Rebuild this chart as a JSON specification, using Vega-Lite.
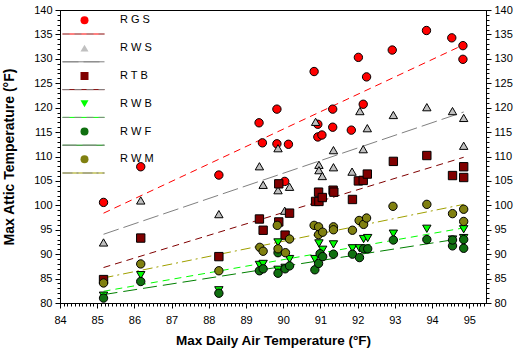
{
  "$schema": "https://vega.github.io/schema/vega-lite/v6.json",
  "width": 426,
  "height": 293,
  "autosize": "none",
  "padding": {"left": 60, "top": 10, "right": 32, "bottom": 45},
  "background": "white",
  "config": {
    "view": {"stroke": "black", "strokeWidth": 1},
    "axis": {
      "labelFont": "Liberation Sans", "labelFontSize": 11, "labelColor": "black",
      "domainColor": "black", "tickColor": "black", "grid": false,
      "titleFont": "Liberation Sans", "titleFontSize": 13.5, "titleFontWeight": "bold", "titleColor": "black"
    },
    "legend": {
      "labelFont": "Liberation Sans", "labelFontSize": 11, "labelColor": "black"
    }
  },
  "data": {"values": [
    {"s":"RGS","x":85.17,"y":100.6},{"s":"RGS","x":86.17,"y":107.9},{"s":"RGS","x":88.27,"y":106.2},{"s":"RGS","x":89.35,"y":116.9},
    {"s":"RGS","x":89.44,"y":112.8},{"s":"RGS","x":89.83,"y":119.7},{"s":"RGS","x":89.83,"y":112.6},{"s":"RGS","x":90.14,"y":112.5},
    {"s":"RGS","x":90.04,"y":104.9},{"s":"RGS","x":90.83,"y":127.4},{"s":"RGS","x":90.93,"y":116.6},{"s":"RGS","x":90.93,"y":114.0},
    {"s":"RGS","x":91.04,"y":114.4},{"s":"RGS","x":91.33,"y":119.7},{"s":"RGS","x":91.33,"y":116.0},{"s":"RGS","x":91.83,"y":115.4},
    {"s":"RGS","x":92.02,"y":130.3},{"s":"RGS","x":92.15,"y":120.7},{"s":"RGS","x":92.24,"y":126.3},{"s":"RGS","x":92.93,"y":131.8},
    {"s":"RGS","x":93.85,"y":135.8},{"s":"RGS","x":94.53,"y":134.3},{"s":"RGS","x":94.83,"y":132.7},{"s":"RGS","x":94.83,"y":129.9},

    {"s":"RWS","x":85.17,"y":92.4},{"s":"RWS","x":86.17,"y":101.0},{"s":"RWS","x":88.27,"y":98.2},{"s":"RWS","x":89.36,"y":108.0},
    {"s":"RWS","x":89.46,"y":104.2},{"s":"RWS","x":89.86,"y":111.7},{"s":"RWS","x":89.86,"y":103.1},{"s":"RWS","x":90.04,"y":98.9},
    {"s":"RWS","x":90.17,"y":103.8},{"s":"RWS","x":90.87,"y":117.1},{"s":"RWS","x":90.96,"y":108.3},{"s":"RWS","x":90.96,"y":107.2},
    {"s":"RWS","x":91.05,"y":106.0},{"s":"RWS","x":91.35,"y":111.3},{"s":"RWS","x":91.35,"y":107.8},{"s":"RWS","x":91.85,"y":106.9},
    {"s":"RWS","x":92.06,"y":119.3},{"s":"RWS","x":92.15,"y":111.5},{"s":"RWS","x":92.26,"y":115.8},{"s":"RWS","x":92.96,"y":118.5},
    {"s":"RWS","x":93.86,"y":120.1},{"s":"RWS","x":94.55,"y":119.3},{"s":"RWS","x":94.85,"y":117.9},{"s":"RWS","x":94.85,"y":112.2},

    {"s":"RTB","x":85.17,"y":84.8},{"s":"RTB","x":86.17,"y":93.3},{"s":"RTB","x":88.27,"y":89.5},{"s":"RTB","x":89.36,"y":97.2},
    {"s":"RTB","x":89.46,"y":94.9},{"s":"RTB","x":89.88,"y":104.4},{"s":"RTB","x":89.88,"y":96.6},{"s":"RTB","x":90.05,"y":93.9},
    {"s":"RTB","x":90.17,"y":98.4},{"s":"RTB","x":90.87,"y":100.8},{"s":"RTB","x":90.96,"y":100.8},{"s":"RTB","x":90.95,"y":102.7},
    {"s":"RTB","x":91.05,"y":101.6},{"s":"RTB","x":91.34,"y":103.1},{"s":"RTB","x":91.36,"y":102.7},{"s":"RTB","x":91.86,"y":101.2},
    {"s":"RTB","x":92.02,"y":105.0},{"s":"RTB","x":92.15,"y":105.1},{"s":"RTB","x":92.26,"y":106.4},{"s":"RTB","x":92.96,"y":109.0},
    {"s":"RTB","x":93.86,"y":110.2},{"s":"RTB","x":94.55,"y":106.1},{"s":"RTB","x":94.85,"y":107.9},{"s":"RTB","x":94.85,"y":105.7},

    {"s":"RWB","x":85.17,"y":81.5},{"s":"RWB","x":86.17,"y":85.7},{"s":"RWB","x":88.27,"y":82.6},{"s":"RWB","x":89.36,"y":87.8},
    {"s":"RWB","x":89.46,"y":88.0},{"s":"RWB","x":89.86,"y":92.4},{"s":"RWB","x":89.86,"y":86.8},{"s":"RWB","x":90.05,"y":87.2},
    {"s":"RWB","x":90.17,"y":89.0},{"s":"RWB","x":90.85,"y":89.0},{"s":"RWB","x":90.96,"y":92.2},{"s":"RWB","x":91.06,"y":90.9},
    {"s":"RWB","x":91.35,"y":92.0},{"s":"RWB","x":91.86,"y":91.2},{"s":"RWB","x":92.05,"y":91.2},{"s":"RWB","x":92.16,"y":93.1},
    {"s":"RWB","x":92.27,"y":93.3},{"s":"RWB","x":92.96,"y":94.2},{"s":"RWB","x":93.86,"y":95.2},{"s":"RWB","x":94.55,"y":93.0},
    {"s":"RWB","x":94.85,"y":95.1},{"s":"RWB","x":94.85,"y":93.3},

    {"s":"RWF","x":85.17,"y":81.0},{"s":"RWF","x":86.17,"y":84.4},{"s":"RWF","x":88.27,"y":82.0},{"s":"RWF","x":89.36,"y":86.6},
    {"s":"RWF","x":89.46,"y":87.0},{"s":"RWF","x":89.86,"y":90.3},{"s":"RWF","x":89.86,"y":86.1},{"s":"RWF","x":90.05,"y":87.0},
    {"s":"RWF","x":90.17,"y":87.6},{"s":"RWF","x":90.85,"y":86.8},{"s":"RWF","x":90.95,"y":88.1},{"s":"RWF","x":90.99,"y":90.1},
    {"s":"RWF","x":91.06,"y":89.5},{"s":"RWF","x":91.35,"y":90.0},{"s":"RWF","x":91.86,"y":90.0},{"s":"RWF","x":92.05,"y":89.3},
    {"s":"RWF","x":92.16,"y":91.1},{"s":"RWF","x":92.27,"y":91.1},{"s":"RWF","x":92.96,"y":92.9},{"s":"RWF","x":93.86,"y":93.0},
    {"s":"RWF","x":94.55,"y":91.7},{"s":"RWF","x":94.55,"y":92.9},{"s":"RWF","x":94.85,"y":93.0},{"s":"RWF","x":94.85,"y":91.2},

    {"s":"RWM","x":85.17,"y":84.1},{"s":"RWM","x":86.17,"y":88.0},{"s":"RWM","x":88.27,"y":86.6},{"s":"RWM","x":89.37,"y":91.4},
    {"s":"RWM","x":89.46,"y":90.6},{"s":"RWM","x":89.84,"y":95.9},{"s":"RWM","x":89.86,"y":91.1},{"s":"RWM","x":90.06,"y":90.3},
    {"s":"RWM","x":90.17,"y":93.1},{"s":"RWM","x":90.83,"y":95.9},{"s":"RWM","x":90.95,"y":95.6},{"s":"RWM","x":90.95,"y":94.0},
    {"s":"RWM","x":91.06,"y":94.5},{"s":"RWM","x":91.35,"y":95.6},{"s":"RWM","x":91.35,"y":95.0},{"s":"RWM","x":91.86,"y":94.9},
    {"s":"RWM","x":92.04,"y":96.9},{"s":"RWM","x":92.16,"y":96.1},{"s":"RWM","x":92.24,"y":97.4},{"s":"RWM","x":92.95,"y":99.8},
    {"s":"RWM","x":93.86,"y":100.2},{"s":"RWM","x":94.55,"y":98.3},{"s":"RWM","x":94.85,"y":99.2},{"s":"RWM","x":94.85,"y":96.7}
  ]},
  "resolve": {"axis": {"x": "independent", "y": "independent"}},
  "layer": [
    {
      "transform": [{"regression": "y", "on": "x", "groupby": ["s"]}],
      "mark": {"type": "line", "strokeWidth": 1},
      "encoding": {
        "x": {"field": "x", "type": "quantitative",
              "scale": {"domain": [84, 95.45], "nice": false, "zero": false},
              "axis": {"orient": "bottom", "tickCount": 11, "tickSize": 5, "labelPadding": 6, "domain": true,
                       "title": "Max Daily Air Temperature (°F)", "titlePadding": 8, "labelFlush": false}},
        "y": {"field": "y", "type": "quantitative",
              "scale": {"domain": [80, 140], "nice": false, "zero": false},
              "axis": {"orient": "left", "tickCount": 12, "tickSize": 5, "labelPadding": 3,
                       "title": "Max Attic Temperature (°F)", "titlePadding": 17, "titleFontSize": 14, "labelFlush": false}},
        "stroke": {"field": "s", "type": "nominal", "title": null,
                   "sort": ["RGS","RWS","RTB","RWB","RWF","RWM"],
                   "scale": {"range": ["#ff0000","#808080","#800000","#00ff00","#008000","#a0a000"]},
                   "legend": {"orient": "none", "legendX": 2, "legendY": 18.5, "padding": 0, "rowPadding": 15.8,
                              "clipHeight": 11, "symbolType": "stroke", "symbolSize": 1764, "symbolStrokeWidth": 1,
                              "labelOpacity": 0}},
        "strokeDash": {"field": "s", "type": "nominal", "title": null,
                       "sort": ["RGS","RWS","RTB","RWB","RWF","RWM"],
                       "scale": {"range": [[7,5],[16,5],[7,5],[7,5],[14,6],[10,4,2,4]]},
                       "legend": {"orient": "none", "legendX": 2, "legendY": 18.5, "padding": 0, "rowPadding": 15.8,
                                  "clipHeight": 11, "symbolType": "stroke", "symbolSize": 1764, "symbolStrokeWidth": 1,
                                  "labelOpacity": 0}}
      }
    },
    {
      "mark": {"type": "point", "filled": true, "stroke": "black", "strokeWidth": 1, "size": 70, "opacity": 1},
      "encoding": {
        "x": {"field": "x", "type": "quantitative",
              "axis": {"orient": "bottom", "tickCount": 115, "tickSize": 3, "labels": false, "domain": false, "title": null}},
        "y": {"field": "y", "type": "quantitative",
              "axis": {"orient": "right", "tickCount": 12, "tickSize": 5, "labelPadding": 3, "title": null, "labelFlush": false}},
        "fill": {"field": "s", "type": "nominal", "title": null,
                 "scale": {"domain": ["RGS","RWS","RTB","RWB","RWF","RWM"],
                           "range": ["#ff0000","#c0c0c0","#800000","#00ff00","#107010","#808010"]},
                 "legend": {"orient": "none", "legendX": 19, "legendY": 4.8, "padding": 0, "rowPadding": 15.8,
                            "clipHeight": 11, "symbolSize": 64, "symbolStrokeColor": "black", "symbolStrokeWidth": 1,
                            "labelOffset": 30, "labelExpr": "join(split(datum.label, ''), ' ')"}},
        "shape": {"field": "s", "type": "nominal", "title": null,
                  "scale": {"domain": ["RGS","RWS","RTB","RWB","RWF","RWM"],
                            "range": ["circle","triangle-up","square","triangle-down","circle","circle"]},
                  "legend": {"orient": "none", "legendX": 19, "legendY": 4.8, "padding": 0, "rowPadding": 15.8,
                             "clipHeight": 11, "symbolSize": 64, "symbolStrokeColor": "black", "symbolStrokeWidth": 1,
                             "labelOffset": 30, "labelExpr": "join(split(datum.label, ''), ' ')"}}
      }
    },
    {
      "mark": {"type": "point", "opacity": 0},
      "encoding": {
        "x": {"field": "x", "type": "quantitative", "axis": null},
        "y": {"field": "y", "type": "quantitative",
              "axis": {"orient": "left", "tickCount": 60, "tickSize": 3, "labels": false, "domain": false, "title": null}}
      }
    },
    {
      "mark": {"type": "point", "opacity": 0},
      "encoding": {
        "x": {"field": "x", "type": "quantitative", "axis": null},
        "y": {"field": "y", "type": "quantitative",
              "axis": {"orient": "right", "tickCount": 60, "tickSize": 3, "labels": false, "domain": false, "title": null}}
      }
    }
  ]
}
